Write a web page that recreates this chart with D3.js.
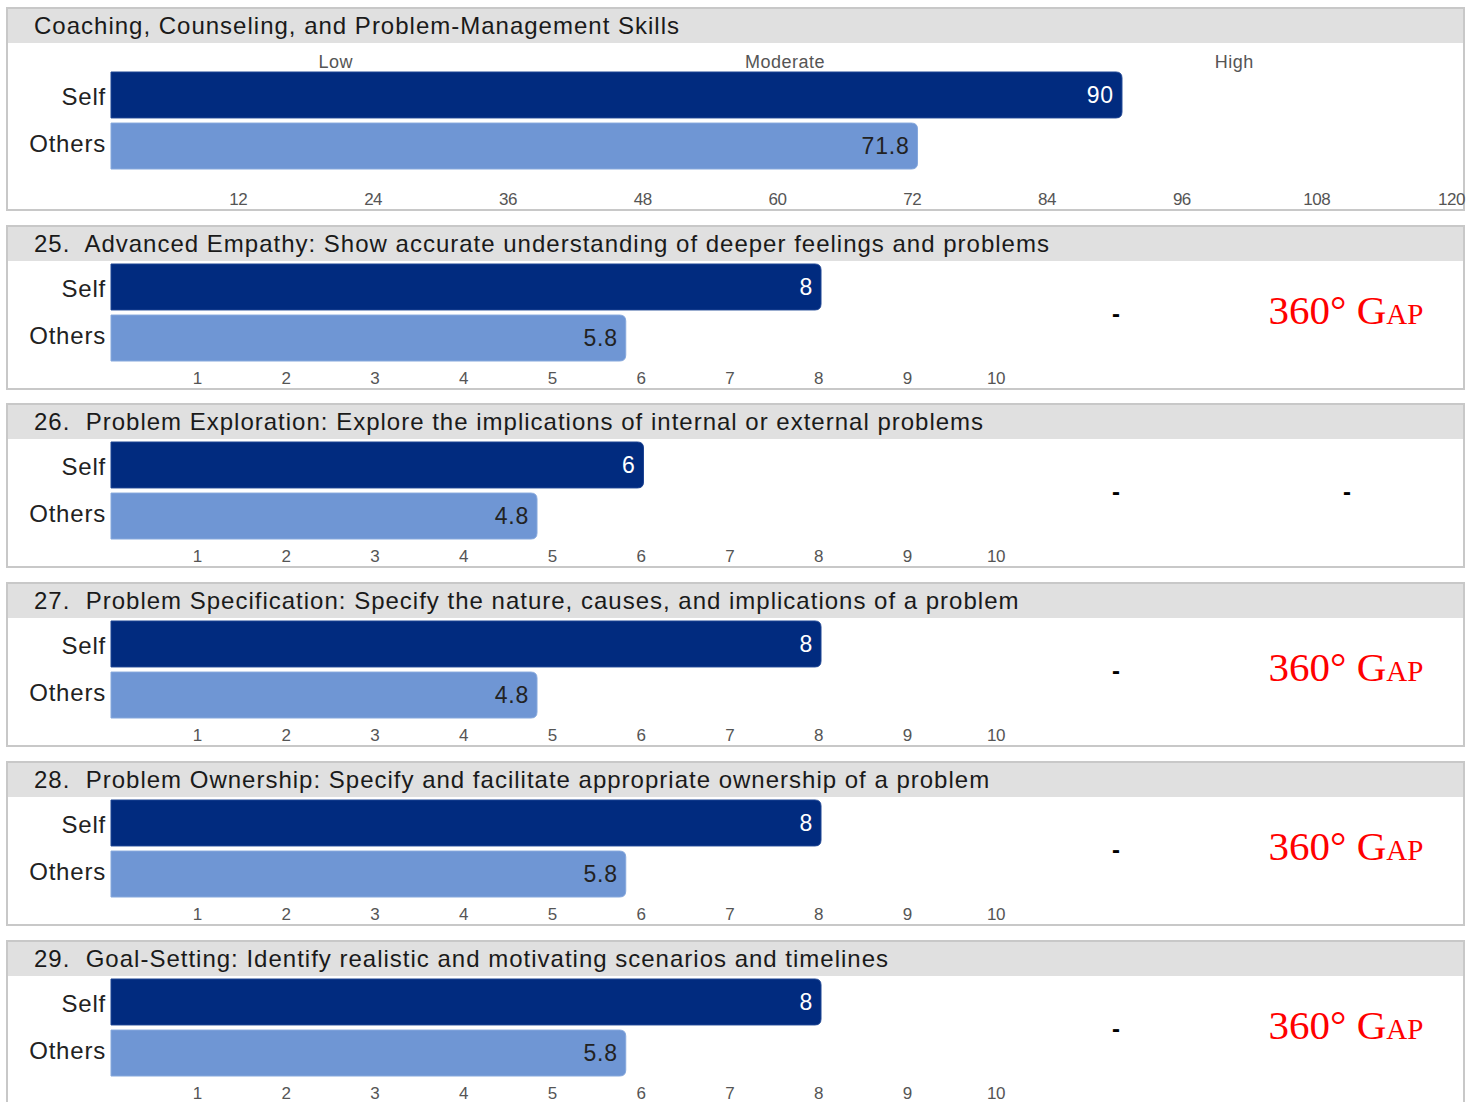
<!DOCTYPE html>
<html>
<head>
<meta charset="utf-8">
<script src="https://cdn.jsdelivr.net/npm/d3@7/dist/d3.min.js"></script>
<style>
  html, body { margin: 0; padding: 0; background: #fff; }
  svg { display: block; font-family: "Liberation Sans", Arial, sans-serif; }
</style>
</head>
<body>
<svg id="chart" width="1474" height="1102"></svg>
<script>
// ---- data ----
const categories = ["Self", "Others"];
const panelTitles = [
  "Coaching, Counseling, and Problem-Management Skills",
  "25.  Advanced Empathy: Show accurate understanding of deeper feelings and problems",
  "26.  Problem Exploration: Explore the implications of internal or external problems",
  "27.  Problem Specification: Specify the nature, causes, and implications of a problem",
  "28.  Problem Ownership: Specify and facilitate appropriate ownership of a problem",
  "29.  Goal-Setting: Identify realistic and motivating scenarios and timelines"
];
const selfValues = [90, 8, 6, 8, 8, 8];
const othersValues = [71.8, 5.8, 4.8, 4.8, 5.8, 5.8];
const gapMarks = [null, "-", "-", "-", "-", "-"];
const gapLabels = [null, "360° Gap", "-", "360° Gap", "360° Gap", "360° Gap"];
const summaryTicks = [12, 24, 36, 48, 60, 72, 84, 96, 108, 120];
const levelLabels = ["Low", "Moderate", "High"];
const levelPositions = [20, 60, 100];
const itemTicks = [1, 2, 3, 4, 5, 6, 7, 8, 9, 10];

// ---- layout ----
const svg = d3.select("#chart");
const colors = { Self: "#012b7f", Others: "#6f96d4" };
const panelLeft = 7, panelRight = 1464;
const panelTops = [8, 226, 404, 583, 762, 941];

function roundedRightBar(x0, x1, y, h, r) {
  r = Math.min(r, (x1 - x0) / 2, h / 2);
  return `M${x0},${y}H${x1 - r}Q${x1},${y} ${x1},${y + r}V${y + h - r}Q${x1},${y + h} ${x1 - r},${y + h}H${x0}Z`;
}

panelTitles.forEach((title, i) => {
  const T = panelTops[i];
  const isSummary = i === 0;
  const H = isSummary ? 202 : 163;
  const g = svg.append("g");

  // border and header band
  g.append("rect").attr("x", panelLeft).attr("y", T).attr("width", panelRight - panelLeft).attr("height", H)
    .attr("fill", "#fff").attr("stroke", "#c8c8c8").attr("stroke-width", 2);
  g.append("rect").attr("x", panelLeft + 1).attr("y", T + 1).attr("width", panelRight - panelLeft - 2).attr("height", 34)
    .attr("fill", "#e0e0e0");
  g.append("text").attr("x", 34).attr("y", T + 26).attr("font-size", 24).attr("fill", "#1a1a1a")
    .attr("letter-spacing", "1px")
    .style("white-space", "pre").text(title);

  const x = d3.scaleLinear()
    .domain(isSummary ? [0, 120] : [0, 10])
    .range(isSummary ? [111, 111 + 120 * 11.233] : [111, 111 + 10 * 88.75]);
  const barTop = isSummary ? T + 64 : T + 38;
  const y = d3.scaleBand().domain(categories).range([barTop, barTop + 97]).paddingInner(0.1);

  const vals = { Self: selfValues[i], Others: othersValues[i] };
  const labelShift = { Self: 1, Others: -3 };

  // category labels
  g.selectAll(".cat").data(categories).enter().append("text")
    .attr("x", 106).attr("y", d => y(d) + y.bandwidth() / 2 + labelShift[d])
    .attr("dy", "0.36em").attr("text-anchor", "end").attr("font-size", 24).attr("fill", "#222")
    .attr("letter-spacing", "0.8px")
    .text(d => d);

  // bars
  g.selectAll(".bar").data(categories).enter().append("path")
    .attr("d", d => roundedRightBar(x(0), x(vals[d]), y(d), y.bandwidth(), 6))
    .attr("fill", d => colors[d])
    .attr("stroke", d => d === "Self" ? "#1d4493" : "#86a8dc").attr("stroke-width", 1);

  // value labels
  g.selectAll(".val").data(categories).enter().append("text")
    .attr("x", d => x(vals[d]) - 8).attr("y", d => y(d) + y.bandwidth() / 2)
    .attr("dy", "0.36em").attr("text-anchor", "end").attr("font-size", 23)
    .attr("letter-spacing", "0.8px")
    .attr("fill", d => d === "Self" ? "#fff" : "#222")
    .text(d => vals[d]);

  // axis tick labels
  const ticks = isSummary ? summaryTicks : itemTicks;
  const axis = d3.axisBottom(x).tickValues(ticks).tickSize(0).tickPadding(0);
  const ag = g.append("g")
    .attr("transform", `translate(${isSummary ? -8 : -3},${isSummary ? T + 185 : T + 146})`).call(axis);
  ag.select(".domain").remove();
  ag.selectAll("text").attr("font-size", 17).attr("fill", "#555")
    .attr("font-family", "'Liberation Sans Narrow', 'Liberation Sans', Arial, sans-serif")
    .attr("letter-spacing", "-0.5px");

  if (isSummary) {
    g.selectAll(".lvl").data(levelLabels).enter().append("text")
      .attr("x", (d, k) => x(levelPositions[k])).attr("y", T + 60)
      .attr("text-anchor", "middle").attr("font-size", 18).attr("fill", "#555")
      .attr("letter-spacing", "0.5px")
      .text(d => d);
  } else {
    const midY = T + 94;
    g.append("text").attr("x", 1116).attr("y", midY).attr("dy", "0.1em")
      .attr("text-anchor", "middle").attr("font-size", 24).attr("font-weight", "bold")
      .attr("fill", "#000").text(gapMarks[i]);
    const lab = gapLabels[i];
    if (lab === "-") {
      g.append("text").attr("x", 1347).attr("y", midY).attr("dy", "0.1em")
        .attr("text-anchor", "middle").attr("font-size", 24).attr("font-weight", "bold")
        .attr("fill", "#000").text(lab);
    } else if (lab) {
      g.append("text").attr("x", 1346).attr("y", T + 84).attr("dy", "0.35em")
        .attr("text-anchor", "middle").attr("font-size", 41).attr("fill", "#ff0000")
        .attr("font-family", "'Liberation Serif', 'DejaVu Serif', serif")
        .style("font-variant", "small-caps").style("font-variant-numeric", "oldstyle-nums")
        .text(lab);
    }
  }
});
</script>
</body>
</html>
